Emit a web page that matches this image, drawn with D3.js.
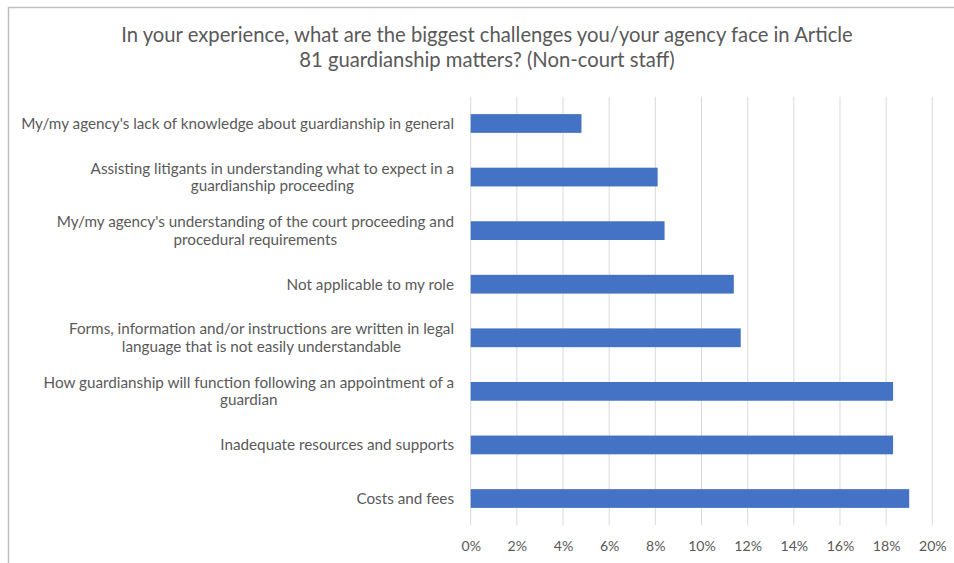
<!DOCTYPE html>
<html>
<head>
<meta charset="utf-8">
<script src="https://cdn.jsdelivr.net/npm/d3@7"></script>
<style>
  html, body { margin: 0; padding: 0; background: #fff; }
  svg { display: block; }
  text { font-family: Lato, "Open Sans", sans-serif; fill: #595959; }
</style>
</head>
<body>
<svg id="chart" width="954" height="563"></svg>
<script>
// Survey responses, top to bottom
const categories = [
  ["My/my agency's lack of knowledge about guardianship in general"],
  ["Assisting litigants in understanding what to expect in a", "guardianship proceeding"],
  ["My/my agency's understanding of the court proceeding and", "procedural requirements"],
  ["Not applicable to my role"],
  ["Forms, information and/or instructions are written in legal", "language that is not easily understandable"],
  ["How guardianship will function following an appointment of a", "guardian"],
  ["Inadequate resources and supports"],
  ["Costs and fees"]
];
const values = [4.8, 8.1, 8.4, 11.4, 11.7, 18.3, 18.3, 19.0];
const xTicks = [0, 2, 4, 6, 8, 10, 12, 14, 16, 18, 20];
const titleLines = [
  "In your experience, what are the biggest challenges you/your agency face in Article",
  "81 guardianship matters? (Non-court staff)"
];

const svg = d3.select("#chart");
const plot = { left: 470.7, right: 932.3, top: 96.7, bottom: 525.3 };

// Size a font so a reference string spans the given width
function fitSize(str, targetW, base) {
  const t = svg.append("text").attr("font-size", base).text(str);
  const w = t.node().getComputedTextLength();
  t.remove();
  return base * targetW / w;
}

// Outer frame (top and left edges)
svg.append("path")
  .attr("d", "M8.5,563 V7.5 H954")
  .attr("fill", "none")
  .attr("stroke", "#bfbfbf")
  .attr("stroke-width", 1.5);

// Title
const titleSize = fitSize(titleLines[0], 732, 16);
svg.append("g").selectAll("text").data(titleLines).join("text")
  .attr("x", 487)
  .attr("y", (d, i) => 42 + i * 25)
  .attr("text-anchor", "middle")
  .attr("font-size", titleSize)
  .text(d => d);

const x = d3.scaleLinear().domain([0, 20]).range([plot.left, plot.right]);
const y = d3.scaleBand().domain(d3.range(categories.length))
  .range([plot.top, plot.bottom]).paddingInner(0.65).paddingOuter(0.325);

// Vertical gridlines
svg.append("g").selectAll("line").data(xTicks).join("line")
  .attr("x1", d => x(d)).attr("x2", d => x(d))
  .attr("y1", plot.top).attr("y2", plot.bottom)
  .attr("stroke", "#d9d9d9").attr("stroke-width", 1);

// Bars
svg.append("g").selectAll("rect").data(values).join("rect")
  .attr("x", x(0))
  .attr("y", (d, i) => y(i))
  .attr("width", d => x(d) - x(0))
  .attr("height", y.bandwidth())
  .attr("fill", "#4472c4");

// X axis tick labels
const tickSize = fitSize("20%", 27.7, 12);
const xAxis = d3.axisBottom(x).tickValues(xTicks).tickFormat(d => d + "%").tickSize(0).tickPadding(0);
const gx = svg.append("g").attr("transform", `translate(0,${plot.bottom + 26})`).call(xAxis);
gx.select(".domain").remove();
gx.selectAll("text").attr("font-size", tickSize).attr("fill", "#595959")
  .attr("font-family", 'Lato, "Open Sans", sans-serif').attr("dy", "0");

// Category labels: multi-line, centred within a right-aligned block
const labelRight = 454;
const lineH = 17.5;
const fs = fitSize(categories[0][0], 433, 12);
const lg = svg.append("g");
categories.forEach((lines, i) => {
  const cy = y(i) + y.bandwidth() / 2;
  const t = lg.append("text").attr("font-size", fs);
  const spans = lines.map(ln => t.append("tspan").text(ln));
  const widths = spans.map(s => s.node().getComputedTextLength());
  const blockW = d3.max(widths);
  const cx = labelRight - blockW / 2;
  const y0 = cy - (lines.length - 1) * lineH / 2 + fs * 0.35;
  spans.forEach((s, j) => s.attr("x", cx).attr("y", y0 + j * lineH).attr("text-anchor", "middle"));
});
</script>
</body>
</html>
